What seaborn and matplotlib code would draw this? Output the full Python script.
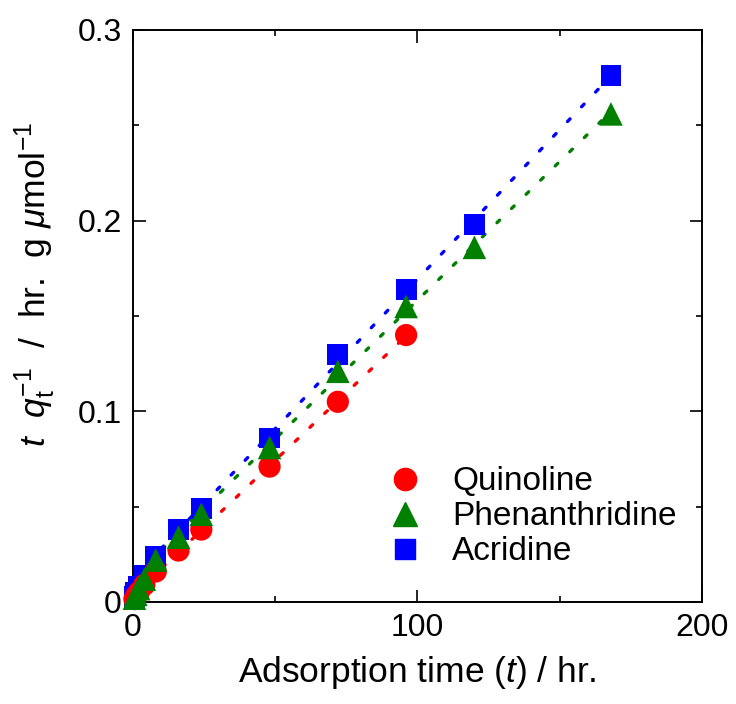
import numpy as np
import pandas as pd
import seaborn as sns
import matplotlib.pyplot as plt
from matplotlib.ticker import MultipleLocator, FuncFormatter
from matplotlib.lines import Line2D

time_hr = [0.5, 1, 2, 4, 8, 16, 24, 48, 72, 96, 120, 168]
quinoline = [0.0015, 0.003, 0.005, 0.009, 0.016, 0.027, 0.038, 0.071, 0.105, 0.140]
phenanthridine = [0.002, 0.004, 0.007, 0.012, 0.022, 0.034, 0.046, 0.081, 0.121, 0.155, 0.186, 0.256]
acridine = [0.003, 0.005, 0.008, 0.014, 0.024, 0.038, 0.049, 0.086, 0.130, 0.164, 0.198, 0.276]

series = {"Acridine": acridine, "Quinoline": quinoline, "Phenanthridine": phenanthridine}
colors = {"Quinoline": "#ff0000", "Phenanthridine": "#008000", "Acridine": "#0000ff"}
markers = {"Quinoline": "o", "Phenanthridine": "^", "Acridine": "s"}
sizes = {"Quinoline": 16, "Phenanthridine": 17, "Acridine": 15}

rows = []
for name, vals in series.items():
    for t, v in zip(time_hr, vals):
        rows.append({"t": t, "y": v, "compound": name})
df = pd.DataFrame(rows)

sns.set_style("ticks")
plt.rcParams["font.family"] = ["Liberation Sans", "DejaVu Sans"]
plt.rcParams["mathtext.fontset"] = "custom"
plt.rcParams["mathtext.rm"] = "Liberation Sans"
plt.rcParams["mathtext.it"] = "Liberation Sans:italic"
plt.rcParams["text.color"] = "black"
plt.rcParams["axes.labelcolor"] = "black"
plt.rcParams["xtick.color"] = "black"
plt.rcParams["ytick.color"] = "black"

fig = plt.figure(figsize=(7.36, 7.04), dpi=100)
ax = fig.add_axes([0.1807, 0.1449, 0.7731, 0.8125])

# linear fits (pseudo-second-order plot)
for name, vals in series.items():
    x = np.array(time_hr[:len(vals)])
    y = np.array(vals)
    k, b = np.polyfit(x[6:], y[6:], 1)
    xs = np.array([0, x[-1]])
    ax.plot(xs, k * xs + b, color=colors[name], lw=2.4, dashes=(1.1, 5.0),
            dash_capstyle="round", zorder=2)

for name in series:
    sub = df[df["compound"] == name]
    sns.scatterplot(data=sub, x="t", y="y", ax=ax, marker=markers[name],
                    color=colors[name], s=sizes[name] ** 2, edgecolor="none",
                    linewidth=0, zorder=3, clip_on=False, legend=False)

ax.set_xlim(0, 200)
ax.set_ylim(0, 0.3)
ax.xaxis.set_major_locator(MultipleLocator(100))
ax.xaxis.set_minor_locator(MultipleLocator(50))
ax.yaxis.set_major_locator(MultipleLocator(0.1))
ax.yaxis.set_minor_locator(MultipleLocator(0.05))
ax.xaxis.set_major_formatter(FuncFormatter(lambda v, p: f"{v:.0f}"))
ax.yaxis.set_major_formatter(FuncFormatter(lambda v, p: "0" if abs(v) < 1e-9 else f"{v:.1f}"))

for s in ax.spines.values():
    s.set_linewidth(1.4)
    s.set_color("black")
ax.tick_params(which="both", direction="in", top=True, right=True,
               width=1.2, labelsize=23, pad=8)
ax.tick_params(which="major", length=9)
ax.tick_params(which="minor", length=4.5)

ax.set_xlabel("Adsorption time ($\\mathit{t}$) / hr.", fontsize=25.5, labelpad=8)
ax.set_ylabel("$\\mathit{t}$  $\\mathit{q}_\\mathrm{t}^{-1}$  /  hr.  g $\\mathit{\\mu}$mol$^{-1}$",
              fontsize=25.5)
ax.yaxis.set_label_coords(-0.132, 0.556)

handles = [Line2D([], [], linestyle="none", marker=markers[n], color=colors[n],
                  markersize=sizes[n]) for n in ["Quinoline", "Phenanthridine", "Acridine"]]
ax.legend(handles, ["Quinoline", "Phenanthridine", "Acridine"], frameon=False,
          fontsize=24, loc="upper left", bbox_to_anchor=(0.42, 0.237),
          handletextpad=0.4, labelspacing=0.12, borderaxespad=0, borderpad=0)

fig.savefig("out.png", dpi=100)
